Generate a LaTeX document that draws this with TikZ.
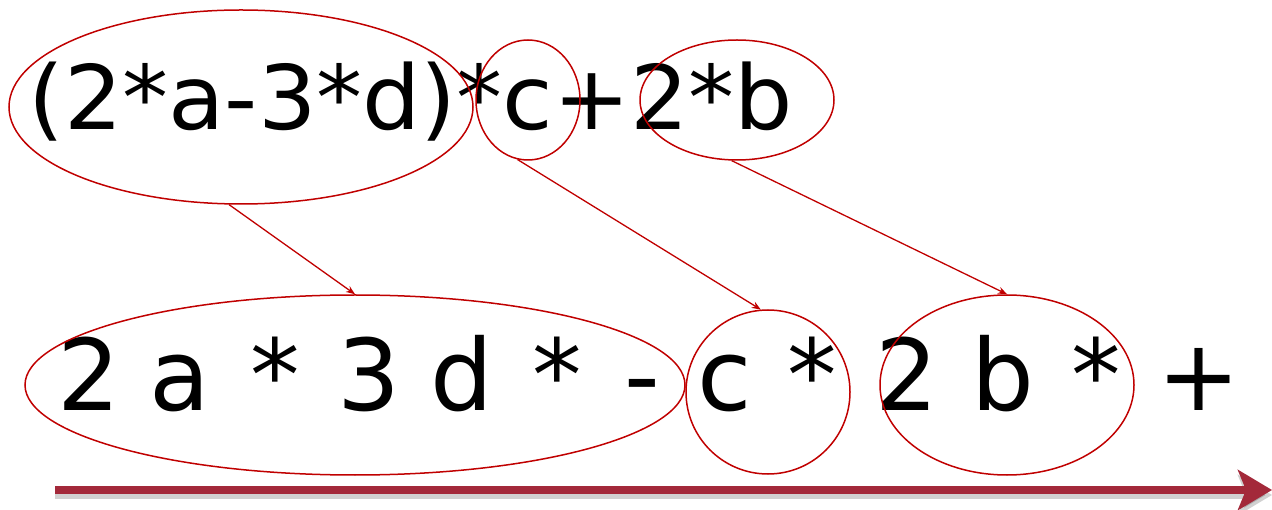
\documentclass[tikz,border=0pt]{standalone}
\usepackage{fontspec}
\setmainfont{DejaVu Sans}
\usetikzlibrary{shapes.geometric,arrows.meta}
\definecolor{ellred}{HTML}{C00000}
\definecolor{bigred}{HTML}{A3293A}
\begin{document}
\begin{tikzpicture}[x=1pt,y=-1pt,
  ell/.style={draw=ellred,line width=1.5pt,ellipse,inner sep=0pt},
  link/.style={draw=ellred,line width=1.3pt,-{Stealth[length=9pt,width=7pt]}},
  big/.style={draw=bigred,line width=8pt,-{Stealth[length=34pt,width=40pt,inset=8pt]}},
  tok/.style={anchor=base,inner sep=0pt,font=\fontsize{99}{110}\selectfont}]
\useasboundingbox (0,0) rectangle (1272,510);
% texts
\node[anchor=base west,inner sep=0pt] (top) at (28,130) {\fontsize{89}{100}\selectfont\scalebox{1.033}[1]{(2*a-3*d)*c+2*b}};
\foreach \x/\t [count=\i] in {89/2,180/a,275/*,369/3,462/d,557/*,642/-,725/c,812/*,907/2,1003/b,1096/*,1199/+}
  \node[tok] (bot\i) at (\x,411) {\t};
% ellipses
\node[ell,minimum width=464pt,minimum height=194pt] (t1) at (241,107) {};
\node[ell,minimum width=104pt,minimum height=120pt] (t2) at (528,100) {};
\node[ell,minimum width=194pt,minimum height=120pt] (t3) at (737,100) {};
\node[ell,minimum width=660pt,minimum height=180pt] (b1) at (355,385) {};
\node[ell,minimum width=164pt,minimum height=164pt] (b2) at (768,392) {};
\node[ell,minimum width=254pt,minimum height=180pt] (b3) at (1007,385) {};
% links
\draw[link] (t1.263) -- (b1.north);
\draw[link] (t2.260) -- (b2.95);
\draw[link] (t3.265) -- (b3.north);
% big arrow
\coordinate (s) at (55,490);
\coordinate (e) at (1272,490);
\draw[big,draw=black,opacity=0.18,transform canvas={yshift=-5pt}] (s) -- (e);
\draw[big] (s) -- (e);
\end{tikzpicture}
\end{document}
